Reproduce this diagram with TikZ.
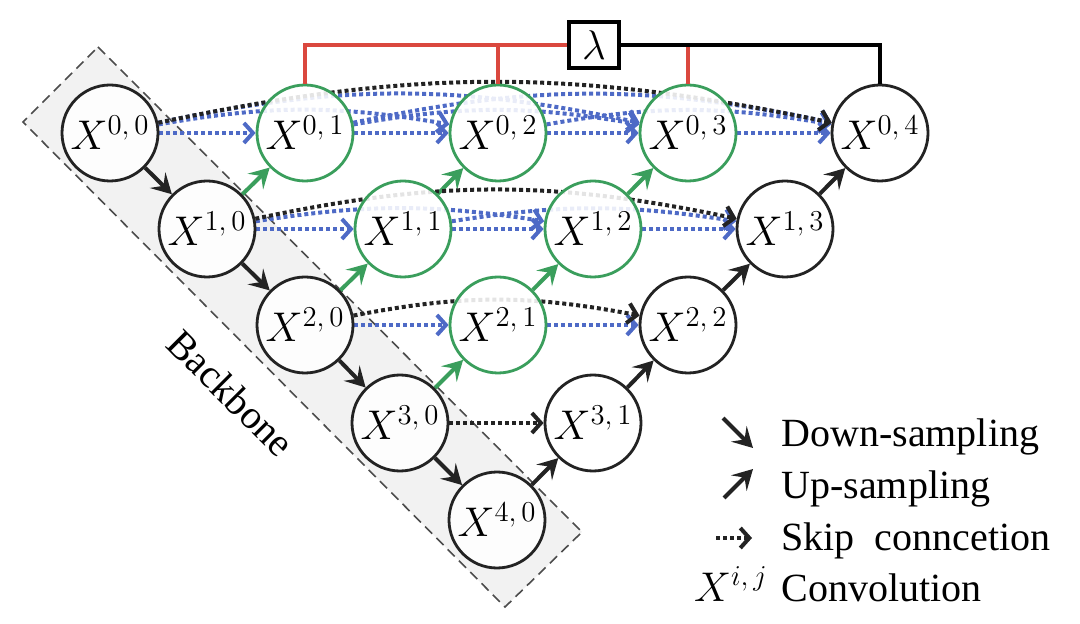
\documentclass[tikz,border=0pt]{standalone}
\usepackage{fontspec}
\newfontfamily\legfont{Liberation Serif}
\usetikzlibrary{arrows.meta,bending}
\pgfdeclarelayer{back}
\pgfdeclarelayer{bg}
\pgfsetlayers{back,bg,main}
\definecolor{gr}{RGB}{58,158,92}
\definecolor{bl}{RGB}{78,106,198}
\definecolor{rd}{RGB}{218,72,62}
\definecolor{bbfill}{RGB}{242,242,242}
\definecolor{dk}{RGB}{35,35,35}
\tikzset{
  cnode/.style={circle, draw=dk, line width=1.4pt, minimum size=48pt, inner sep=0pt,
    fill=white, fill opacity=0.88, text opacity=1, font=\fontsize{22}{26}\selectfont},
  gnode/.style={cnode, draw=gr},
  sarrow/.style={line width=2pt, -{Stealth[length=10pt,width=11pt,inset=4pt]}},
  downarr/.style={sarrow, dk},
  upgreen/.style={sarrow, gr},
  upblack/.style={sarrow, dk},
  skipk/.style={line width=2pt, dash pattern=on 2pt off 1.5pt, dk,
    -{Straight Barb[length=4.5pt,width=10pt,flex]}},
  skipb/.style={skipk, bl},
  leg/.style={anchor=base west, inner sep=0pt, font=\legfont\fontsize{20}{24}\selectfont},
  topline/.style={line width=1.6pt},
}
\begin{document}
\begin{tikzpicture}[x=0.5pt,y=0.5pt]
\useasboundingbox (0,0) rectangle (1080,-624);

% nodes
\node[cnode]  (x00) at (110,-133) {$X^{0,\,0}$};
\node[gnode]  (x01) at (305,-133) {$X^{0,\,1}$};
\node[gnode]  (x02) at (498,-133) {$X^{0,\,2}$};
\node[gnode]  (x03) at (688,-133) {$X^{0,\,3}$};
\node[cnode]  (x04) at (880,-133) {$X^{0,\,4}$};
\node[cnode]  (x10) at (207,-229) {$X^{1,\,0}$};
\node[gnode]  (x11) at (403,-229) {$X^{1,\,1}$};
\node[gnode]  (x12) at (593,-229) {$X^{1,\,2}$};
\node[cnode]  (x13) at (785,-229) {$X^{1,\,3}$};
\node[cnode]  (x20) at (305,-325) {$X^{2,\,0}$};
\node[gnode]  (x21) at (498,-325) {$X^{2,\,1}$};
\node[cnode]  (x22) at (688,-325) {$X^{2,\,2}$};
\node[cnode]  (x30) at (400,-423) {$X^{3,\,0}$};
\node[cnode]  (x31) at (593,-423) {$X^{3,\,1}$};
\node[cnode]  (x40) at (497,-520) {$X^{4,\,0}$};

% backbone band
\begin{pgfonlayer}{back}
\coordinate (b1) at (98,-47);
\coordinate (b2) at (582,-532);
\coordinate (b3) at (505,-607);
\coordinate (b4) at (23,-122);
\draw[fill=bbfill, draw=black!70, line width=0.8pt, dash pattern=on 5pt off 3pt]
  (b1) -- (b2) -- (b3) -- (b4) -- cycle;
\end{pgfonlayer}
\node[rotate=-45, inner sep=0pt, font=\legfont\fontsize{20}{24}\selectfont] (bb) at (231,-393) {Backbone};

\begin{pgfonlayer}{bg}
% down-sampling
\draw[downarr] (x00) -- (x10);
\draw[downarr] (x10) -- (x20);
\draw[downarr] (x20) -- (x30);
\draw[downarr] (x30) -- (x40);
% up-sampling green
\draw[upgreen] (x10) -- (x01);
\draw[upgreen] (x20) -- (x11);
\draw[upgreen] (x11) -- (x02);
\draw[upgreen] (x30) -- (x21);
\draw[upgreen] (x21) -- (x12);
\draw[upgreen] (x12) -- (x03);
% up-sampling black
\draw[upblack] (x40) -- (x31);
\draw[upblack] (x31) -- (x22);
\draw[upblack] (x22) -- (x13);
\draw[upblack] (x13) -- (x04);
% skip row 0
\draw[skipb] (x00) -- (x01);
\draw[skipb] (x01) -- (x02);
\draw[skipb] (x02) -- (x03);
\draw[skipb] (x03) -- (x04);
\draw[skipb] (x00) to[bend left=10] (x02);
\draw[skipb] (x01) to[bend left=10] (x03);
\draw[skipb] (x02) to[bend left=10] (x04);
\draw[skipb] (x00) to[bend left=12] (x03);
\draw[skipb] (x01) to[bend left=12] (x04);
\draw[skipk] (x00) to[bend left=12] (x04);
% skip row 1
\draw[skipb] (x10) -- (x11);
\draw[skipb] (x11) -- (x12);
\draw[skipb] (x12) -- (x13);
\draw[skipb] (x10) to[bend left=9] (x12);
\draw[skipb] (x11) to[bend left=9] (x13);
\draw[skipk] (x10) to[bend left=12] (x13);
% skip row 2
\draw[skipb] (x20) -- (x21);
\draw[skipb] (x21) -- (x22);
\draw[skipk] (x20) to[bend left=11] (x22);
% skip row 3
\draw[skipk] (x30) -- (x31);
\end{pgfonlayer}

% lambda and top lines
\node[draw=black, line width=1.6pt, fill=white, minimum width=25pt, minimum height=23pt,
  inner sep=0pt, font=\fontsize{20}{24}\selectfont] (lam) at (594,-45) {$\lambda$};
\draw[rd, topline] (lam.west) -| (x01.north);
\draw[rd, topline] (x02.north) -- (x02.north |- lam.west);
\draw[rd, topline] (x03.north) -- (x03.north |- lam.east);
\draw[black, line width=1.7pt] (lam.east) -| (x04.north);

% legend
\coordinate (l1a) at (723,-418);
\coordinate (l1b) at (753,-448);
\coordinate (l2a) at (724,-498);
\coordinate (l2b) at (753,-469);
\coordinate (l3a) at (716,-538);
\coordinate (l3b) at (752,-538);
\draw[downarr] (l1a) -- (l1b);
\draw[upblack] (l2a) -- (l2b);
\draw[skipk] (l3a) -- (l3b);
\node[leg] (t1) at (781,-446) {Down-sampling};
\node[leg] (t2) at (781,-498) {Up-sampling};
\node[leg] (t3) at (781,-550) {Skip\ \ conncetion};
\node[leg] (t4) at (781,-601) {Convolution};
\node[anchor=base east, inner sep=0pt, font=\fontsize{22}{26}\selectfont] (xij) at (768,-601) {$X^{i,\,j}$};
\end{tikzpicture}
\end{document}
